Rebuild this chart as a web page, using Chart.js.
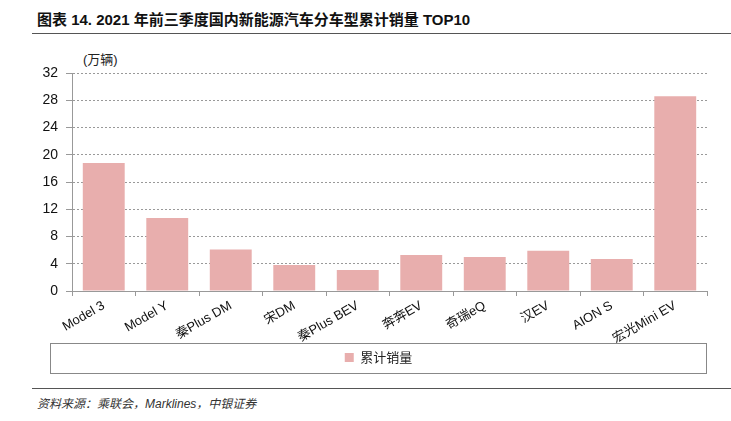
<!DOCTYPE html>
<html>
<head>
<meta charset="utf-8">
<script src="https://cdn.jsdelivr.net/npm/chart.js@4/dist/chart.umd.min.js"></script>
<style>
  body { margin: 0; width: 731px; height: 421px; background: #fff; position: relative; overflow: hidden;
         font-family: "Liberation Sans", "Noto Sans CJK SC", sans-serif; }
  #title { position: absolute; left: 37px; top: 8px; font-size: 15px; font-weight: bold; color: #111; white-space: nowrap; }
  .rule { position: absolute; left: 32px; right: 0; height: 0; border-top: 1.5px solid #555; }
  #unit { position: absolute; left: 83px; top: 49px; font-size: 13px; color: #222; }
  #source { position: absolute; left: 37px; top: 394px; font-size: 12px; font-style: italic; color: #333; }
  #wrap { position: absolute; left: 0; top: 40px; width: 731px; height: 334px; }
</style>
</head>
<body>
<div id="title">图表 14. 2021 年前三季度国内新能源汽车分车型累计销量 TOP10</div>
<div class="rule" style="top:33px"></div>
<div id="unit">(万辆)</div>
<div id="wrap"><canvas id="chart"></canvas></div>
<div class="rule" style="top:388px"></div>
<div id="source">资料来源：乘联会，Marklines，中银证券</div>
<script>
const categories = ['Model 3', 'Model Y', '秦Plus DM', '宋DM', '秦Plus BEV', '奔奔EV', '奇瑞eQ', '汉EV', 'AION S', '宏光Mini EV'];
const salesValues = [18.8, 10.7, 6.1, 3.8, 3.1, 5.3, 5.0, 5.9, 4.7, 28.6];
const seriesName = '累计销量';
const yTicks = [0, 4, 8, 12, 16, 20, 24, 28, 32];

// legend sits in a bordered box spanning from near the left edge to the plot's right edge
const legendBox = {
    id: 'legendBox',
    afterLayout(chart) {
        const lg = chart.legend;
        lg.left = 50;
        lg.right = chart.chartArea.right;
        lg.width = lg.right - lg.left;
    },
    afterDraw(chart) {
        const lg = chart.legend;
        const ctx = chart.ctx;
        ctx.save();
        ctx.strokeStyle = '#888';
        ctx.lineWidth = 1;
        ctx.strokeRect(lg.left + 0.5, lg.top + 0.5, lg.width - 1, lg.bottom - lg.top - 1);
        ctx.restore();
    }
};

const ctx = document.getElementById('chart').getContext('2d');
new Chart(ctx, {
    type: 'bar',
    data: {
        labels: categories,
        datasets: [{
            label: seriesName,
            data: salesValues,
            backgroundColor: '#E8AEAD',
            borderWidth: 0,
            categoryPercentage: 0.66,
            barPercentage: 1
        }]
    },
    options: {
        responsive: true,
        maintainAspectRatio: false,
        animation: false,
        layout: { padding: { top: 33, right: 24, left: 0, bottom: 0 } },
        plugins: {
            tooltip: { enabled: false },
            legend: {
                position: 'bottom',
                labels: {
                    boxWidth: 9,
                    boxHeight: 9,
                    padding: 8,
                    color: '#222',
                    font: { family: '"Noto Sans CJK SC", sans-serif', size: 13 }
                }
            }
        },
        scales: {
            x: {
                afterFit: (s) => { s.height = 52; },
                grid: { drawOnChartArea: false, offset: true, tickLength: 5, color: '#999' },
                border: { color: '#999' },
                ticks: {
                    minRotation: 30,
                    maxRotation: 30,
                    padding: 2,
                    color: '#111',
                    font: { family: '"Liberation Sans", "Noto Sans CJK SC", sans-serif', size: 13 }
                }
            },
            y: {
                min: 0,
                max: 32,
                afterFit: (s) => { s.width = 72; },
                afterBuildTicks: (s) => { s.ticks = yTicks.map(v => ({ value: v })); },
                grid: { color: '#999', tickLength: 6 },
                border: { color: '#999', dash: [2, 2] },
                ticks: {
                    padding: 8,
                    color: '#111',
                    font: { family: '"Liberation Sans", sans-serif', size: 14 }
                }
            }
        }
    },
    plugins: [legendBox]
});
</script>
</body>
</html>
